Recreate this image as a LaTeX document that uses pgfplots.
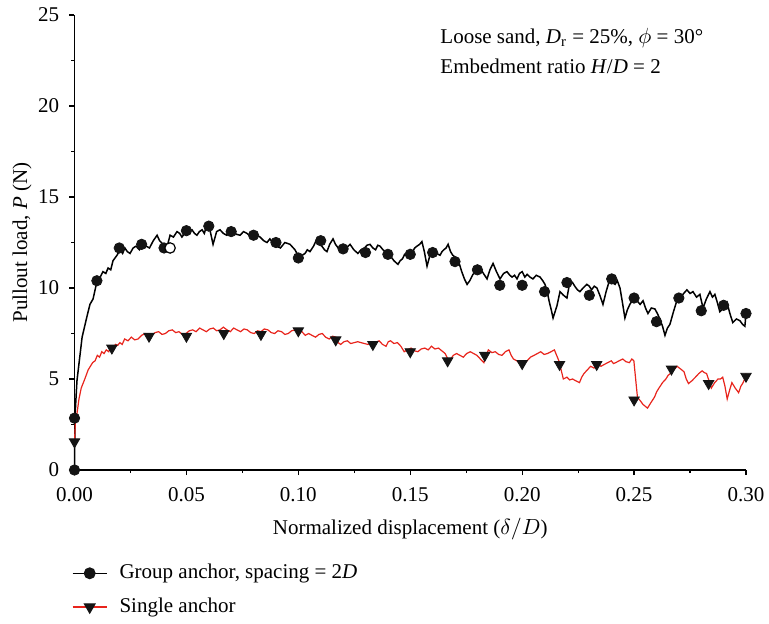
\documentclass[border=0pt]{standalone}
\usepackage{fontspec}
\setmainfont{Liberation Serif}
\usepackage{pgfplots}
\pgfplotsset{compat=1.18}
\definecolor{redline}{RGB}{232,36,28}
\definecolor{mk}{RGB}{20,20,20}
\begin{document}
\fontsize{10.5}{12.6}\selectfont
\begin{tikzpicture}
\begin{axis}[
  scale only axis, width=335.75pt, height=227.5pt,
  at={(0,0)}, anchor=south west,
  xmin=0, xmax=0.30, ymin=0, ymax=25,
  axis lines*=left,
  axis line style={line width=0.7pt},
  tick align=outside,
  xtick={0,0.05,0.10,0.15,0.20,0.25,0.30},
  xticklabels={0.00,0.05,0.10,0.15,0.20,0.25,0.30},
  minor xtick={0.025,0.075,0.125,0.175,0.225,0.275},
  ytick={0,5,10,15,20,25},
  minor ytick={2.5,7.5,12.5,17.5,22.5},
  major tick length=2.5pt, minor tick length=1.5pt,
  tick style={line width=0.6pt, black},
  /pgf/number format/assume math mode=true,
  tick label style={font=\fontsize{10.5}{12.6}\selectfont},
  xticklabel shift=2.5pt, yticklabel shift=1.5pt,
  label style={font=\fontsize{10.5}{12.6}\selectfont},
  xlabel={Normalized displacement ($\delta/D$)},
  ylabel={Pullout load, \textit{P} (N)},
  xlabel style={at={(axis description cs:0.5,0)}, anchor=base, yshift=-32pt},
  ylabel style={at={(axis description cs:-0.0707,0.5)}, anchor=base},
  clip=false,
  legend style={draw=none, fill=none, at={(axis description cs:0,0)}, anchor=north west,
    xshift=-1.5pt, yshift=-45pt, inner sep=0pt, row sep=4pt,
    font=\fontsize{10.5}{12.6}\selectfont,
    /tikz/every odd column/.append style={column sep=4pt}},
  legend cell align=left,
]
% legend entries
\addlegendimage{black, line width=0.75pt, mark=*, mark size=2.6pt, mark options={fill=mk, draw=mk}}
\addlegendentry{Group anchor, spacing = 2\textit{D}}
\addlegendimage{redline, line width=0.6pt, mark=triangle*, mark size=3pt, mark options={rotate=180, fill=mk, draw=mk}}
\addlegendentry{Single anchor}

% Group anchor curve
\addplot[black, line width=0.75pt, no markers, forget plot] coordinates {
(0,0) (0.0002,2.9) (0.0011,4.9) (0.0034,7.3) (0.0055,8.4) (0.0069,9.1) (0.0083,9.4)
(0.0101,10.4) (0.0115,10.6) (0.0127,10.9) (0.0140,10.8) (0.0150,11.1) (0.0162,11.0) (0.0172,11.5) (0.0190,11.8) (0.0203,12.1)
(0.0215,11.9) (0.0225,12.2) (0.0236,12.0) (0.0248,11.9) (0.0262,12.2) (0.0275,12.3) (0.0290,12.1) (0.0306,12.4) (0.0320,12.3) (0.0335,12.2) (0.0352,12.6) (0.0369,12.9)
(0.0380,12.6) (0.0396,12.4) (0.0410,12.1) (0.0427,12.9) (0.0442,12.8) (0.0458,13.1) (0.0470,13.0) (0.0480,12.8) (0.0492,13.0) (0.0503,13.1)
(0.0525,13.2) (0.0536,13.0) (0.0547,12.9) (0.0558,13.1) (0.0570,13.2) (0.0580,13.0) (0.0592,13.5) (0.0605,13.2) (0.0619,12.4) (0.0635,13.1)
(0.0650,13.2) (0.0665,13.0) (0.0680,12.9) (0.0694,13.2) (0.0708,13.1) (0.0724,12.95) (0.0740,12.9) (0.0755,13.1) (0.0771,13.0) (0.0785,12.85) (0.0800,12.7)
(0.0815,12.9) (0.0829,12.8) (0.0845,12.6) (0.0860,12.5) (0.0873,12.7) (0.0887,12.45) (0.0903,12.3) (0.0920,12.2) (0.0940,12.5) (0.0963,12.4) (0.0985,12.1)
(0.1007,11.6) (0.1018,11.8) (0.1030,11.9) (0.1040,12.1) (0.1052,12.0) (0.1068,12.3) (0.1083,12.7) (0.1095,12.5) (0.1105,12.3) (0.1117,12.1) (0.1128,12.0)
(0.1140,12.4) (0.1155,12.7) (0.1166,12.4) (0.1178,12.2) (0.1190,12.3) (0.1200,12.0) (0.1215,12.2) (0.1231,12.4) (0.1248,12.1) (0.1266,11.9) (0.1280,12.1) (0.1295,12.2)
(0.1307,12.35) (0.1320,12.4) (0.1333,12.2) (0.1345,12.1) (0.1355,12.35) (0.1365,12.3) (0.1378,12.1) (0.1390,12.0) (0.1400,11.9) (0.1409,11.8) (0.1427,11.5) (0.1445,11.3)
(0.1455,11.5) (0.1465,11.6) (0.1475,11.85) (0.1485,11.8) (0.1498,12.1) (0.1510,12.0) (0.1520,12.2) (0.1530,12.3) (0.1542,12.4) (0.1552,12.55) (0.1563,12.0) (0.1575,11.2)
(0.1588,11.8) (0.1602,12.1) (0.1618,11.9) (0.1633,11.8) (0.1642,12.0) (0.1650,12.1) (0.1660,12.2) (0.1669,12.4) (0.1680,12.0) (0.1690,11.8) (0.1700,11.7) (0.1709,11.5)
(0.1720,11.3) (0.1730,10.9) (0.1742,10.5) (0.1754,10.2) (0.1766,10.4) (0.1780,10.75) (0.1795,10.9) (0.1812,11.1) (0.1827,10.8) (0.1843,10.5) (0.1856,11.0) (0.1870,11.35)
(0.1885,10.9) (0.1901,10.5) (0.1917,10.8) (0.1932,10.9) (0.1945,10.7) (0.1955,10.6) (0.1966,10.7) (0.1977,10.5) (0.1988,10.8) (0.2000,10.9) (0.2012,10.6) (0.2022,10.75)
(0.2035,10.6) (0.2048,10.5) (0.2063,10.7) (0.2080,10.6) (0.2092,10.4) (0.2102,10.2) (0.2112,9.8) (0.2120,9.3) (0.2130,8.8) (0.2138,8.35) (0.2147,8.7) (0.2155,9.0)
(0.2169,9.8) (0.2185,9.6) (0.2200,9.45) (0.2214,10.4) (0.2225,10.3) (0.2235,10.1) (0.2247,9.9) (0.2258,9.8) (0.2272,10.0) (0.2289,10.2) (0.2300,10.1) (0.2310,9.9)
(0.2322,10.1) (0.2334,10.0) (0.2347,9.6) (0.2361,9.1) (0.2375,9.8) (0.2392,10.5) (0.2403,10.3) (0.2415,10.2) (0.2425,10.4) (0.2437,10.0) (0.2448,9.2)
(0.2459,8.35) (0.2470,8.8) (0.2481,9.1) (0.2497,9.4) (0.2513,9.3) (0.2527,9.1) (0.2540,9.3) (0.2551,8.9) (0.2562,8.6) (0.2577,8.9) (0.2593,8.85)
(0.2604,8.6) (0.2615,8.3) (0.2627,7.9) (0.2638,7.4) (0.2649,7.8) (0.2660,8.0) (0.2676,8.7) (0.2691,9.3) (0.2703,9.5) (0.2715,9.6) (0.2725,9.75) (0.2736,9.9)
(0.2750,9.7) (0.2763,9.8) (0.2779,9.5) (0.2794,9.65) (0.2808,8.9) (0.2823,9.4) (0.2839,9.8) (0.2850,9.5) (0.2861,9.65) (0.2872,9.2) (0.2883,8.7)
(0.2900,8.9) (0.2915,9.2) (0.2928,8.6) (0.2941,8.1) (0.2957,8.3) (0.2973,8.2) (0.2985,8.0) (0.2995,7.9) (0.3000,8.6)
};
% Single anchor curve
\addplot[redline, line width=0.6pt, no markers, forget plot] coordinates {
(0,1.6) (0.0005,2.8) (0.001,3.0) (0.002,3.9) (0.003,4.5) (0.0046,5.0) (0.0061,5.5)
(0.0081,5.9) (0.0092,6.0) (0.0102,6.3) (0.0112,6.2) (0.0122,6.5) (0.0132,6.4) (0.0142,6.6) (0.0153,6.5) (0.0163,6.8) (0.0173,6.7) (0.0183,6.9) (0.0193,6.85)
(0.0203,7.0) (0.0213,6.9) (0.0224,7.2) (0.0239,7.1) (0.0254,7.3) (0.0269,7.15) (0.0284,7.2) (0.0300,7.4) (0.0315,7.5) (0.0330,7.3) (0.0345,7.4) (0.0360,7.55)
(0.0376,7.6) (0.0391,7.45) (0.0406,7.5) (0.0421,7.65) (0.0437,7.7) (0.0452,7.55) (0.0467,7.6) (0.0482,7.45) (0.0498,7.5) (0.0513,7.65) (0.0528,7.7) (0.0543,7.6)
(0.0559,7.8) (0.0574,7.7) (0.0589,7.6) (0.0604,7.75) (0.0620,7.8) (0.0635,7.65) (0.0650,7.7) (0.0665,7.85) (0.0681,7.7) (0.0696,7.6) (0.0711,7.8) (0.0726,7.7)
(0.0742,7.6) (0.0757,7.75) (0.0772,7.7) (0.0787,7.55) (0.0803,7.5) (0.0818,7.65) (0.0833,7.6) (0.0848,7.75) (0.0864,7.7) (0.0879,7.55) (0.0894,7.5) (0.0909,7.65)
(0.0925,7.6) (0.0940,7.45) (0.0955,7.5) (0.0970,7.65) (0.0986,7.7) (0.1001,7.55) (0.1016,7.6) (0.1031,7.4) (0.1046,7.5) (0.1061,7.4) (0.1077,7.3) (0.1092,7.45)
(0.1107,7.5) (0.1122,7.3) (0.1138,7.2) (0.1153,7.35) (0.1168,7.3) (0.1178,7.0) (0.1189,6.9) (0.1204,7.05) (0.1219,7.1) (0.1234,6.95) (0.1250,7.0) (0.1265,7.05)
(0.1280,7.0) (0.1295,6.95) (0.1311,6.9) (0.1326,7.0) (0.1341,6.9) (0.1351,7.05) (0.1361,7.1) (0.1376,6.9) (0.1392,6.8) (0.1402,7.05) (0.1412,7.1) (0.1427,6.95)
(0.1443,7.0) (0.1458,6.8) (0.1473,6.5) (0.1488,6.6) (0.1504,6.7) (0.1519,6.55) (0.1534,6.5) (0.1549,6.65) (0.1565,6.7) (0.1580,6.6) (0.1595,6.8) (0.1610,6.65)
(0.1626,6.7) (0.1641,6.55) (0.1656,6.4) (0.1666,6.15) (0.1676,6.0) (0.1692,6.3) (0.1707,6.4) (0.1722,6.3) (0.1737,6.2) (0.1752,6.4) (0.1768,6.5) (0.1783,6.4)
(0.1798,6.3) (0.1813,6.1) (0.1829,5.9) (0.1839,6.3) (0.1849,6.6) (0.1865,6.45) (0.1880,6.5) (0.1895,6.35) (0.1910,6.3) (0.1925,6.5) (0.1941,6.6) (0.1951,6.3)
(0.1961,6.1) (0.1976,6.0) (0.1991,5.85) (0.2007,5.95) (0.2022,6.0) (0.2037,6.2) (0.2053,6.3) (0.2068,6.4) (0.2083,6.5) (0.2098,6.35) (0.2113,6.4) (0.2129,6.5)
(0.2144,6.6) (0.2154,6.3) (0.2164,6.0) (0.2174,5.5) (0.2184,5.0) (0.2200,5.1) (0.2212,4.95) (0.2225,5.0) (0.2240,4.9) (0.2256,4.8) (0.2266,5.1) (0.2276,5.3)
(0.2291,5.5) (0.2306,5.7) (0.2321,5.6) (0.2337,5.8) (0.2352,5.7) (0.2367,5.8) (0.2382,5.9) (0.2398,6.0) (0.2408,5.85) (0.2418,5.9) (0.2433,6.0) (0.2449,6.1)
(0.2464,5.95) (0.2479,5.9) (0.2490,6.1) (0.2499,6.0) (0.2507,5.0) (0.2515,4.0) (0.2528,3.8) (0.2540,3.6) (0.2550,3.5) (0.2560,3.4) (0.2575,3.7) (0.2591,4.0)
(0.2601,4.3) (0.2611,4.5) (0.2627,4.8) (0.2642,5.0) (0.2652,5.2) (0.2662,5.3) (0.2677,5.5) (0.2692,5.7) (0.2708,5.55) (0.2723,5.4) (0.2733,5.0) (0.2743,4.75)
(0.2758,4.9) (0.2774,5.1) (0.2789,5.3) (0.2804,5.45) (0.2814,5.35) (0.2824,5.3) (0.2835,4.9) (0.2845,4.5) (0.2860,4.8) (0.2875,5.0) (0.2886,5.0) (0.2896,5.1)
(0.2906,4.6) (0.2916,3.9) (0.2927,4.4) (0.2937,4.8) (0.2952,4.5) (0.2967,4.25) (0.2977,4.6) (0.2987,4.8) (0.2994,5.0) (0.3000,5.3)
};
% Group anchor markers
\addplot[only marks, mark=*, mark size=2.6pt, mark options={fill=mk, draw=mk}, forget plot] coordinates {
(0,0) (0,2.85) (0.01,10.4) (0.02,12.2) (0.03,12.4) (0.04,12.2) (0.05,13.15) (0.06,13.4)
(0.07,13.1) (0.08,12.9) (0.09,12.5) (0.10,11.65) (0.11,12.6) (0.12,12.15) (0.13,11.95)
(0.14,11.85) (0.15,11.85) (0.16,11.95) (0.17,11.45) (0.18,11.0) (0.19,10.15) (0.20,10.15)
(0.21,9.8) (0.22,10.3) (0.23,9.6) (0.24,10.5) (0.25,9.45) (0.26,8.15) (0.27,9.45)
(0.28,8.75) (0.29,9.05) (0.30,8.6)
};
\addplot[only marks, mark=*, mark size=2.6pt, mark options={fill=white, draw=black, line width=0.6pt}, forget plot] coordinates {
(0.0427,12.2)
};
% Single anchor markers
\addplot[only marks, mark=triangle*, mark size=3pt, mark options={rotate=180, fill=mk, draw=mk}, forget plot] coordinates {
(0,1.55) (0.0167,6.7) (0.0333,7.35) (0.05,7.35) (0.0667,7.5) (0.0833,7.45) (0.10,7.65)
(0.1167,7.15) (0.1333,6.9) (0.15,6.5) (0.1667,6.0) (0.1833,6.3) (0.20,5.85) (0.2167,5.8)
(0.2333,5.8) (0.25,3.85) (0.2667,5.55) (0.2833,4.75) (0.30,5.15)
};
\node[anchor=base west, inner sep=0pt, font=\fontsize{10.5}{12.6}\selectfont] at (axis cs:0.1633,23.46)
  {Loose sand, \textit{D}\textsubscript{r} = 25\%, $\phi$ = 30°};
\node[anchor=base west, inner sep=0pt, font=\fontsize{10.5}{12.6}\selectfont] at (axis cs:0.1633,21.81)
  {Embedment ratio \textit{H}/\textit{D} = 2};
\end{axis}
\pgfresetboundingbox
\path[use as bounding box] (-37.25pt,-76.5pt) rectangle (347.25pt,235pt);
\end{tikzpicture}
\end{document}
